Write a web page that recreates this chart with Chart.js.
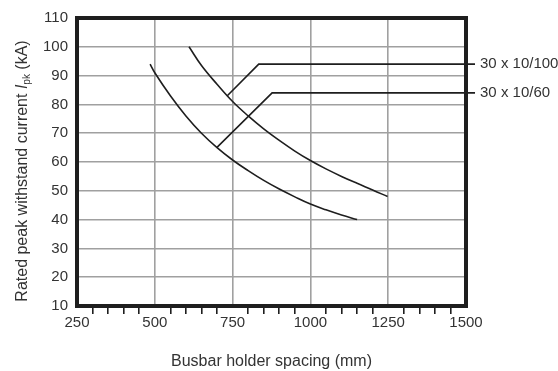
<!DOCTYPE html>
<html>
<head>
<meta charset="utf-8">
<script src="https://cdn.jsdelivr.net/npm/chart.js@4.4.1/dist/chart.umd.min.js"></script>
<style>
  html, body { margin: 0; padding: 0; background: #fff; }
  #wrap { width: 558px; height: 371px; }
</style>
</head>
<body>
<div id="wrap"><canvas id="ipkChart"></canvas></div>
<script>
// busbar holder spacing (mm) vs. rated peak withstand current (kA)
const spacing60 = [485, 500, 550, 600, 650, 700, 750, 800, 850, 900, 950, 1000, 1050, 1100, 1150];
const current60 = [94, 91, 83, 76, 70, 65, 60.7, 57, 53.6, 50.6, 47.9, 45.4, 43.4, 41.6, 40];

const spacing100 = [610, 650, 700, 750, 800, 850, 900, 950, 1000, 1050, 1100, 1150, 1200, 1248];
const current100 = [100, 93.5, 87, 81, 76, 71.5, 67.5, 63.8, 60.5, 57.6, 55, 52.6, 50.3, 48];

// leader lines from each curve out to its name on the right
const seriesNames = ["30 x 10/100", "30 x 10/60"];
const leaderX = [[733, 834, 1529], [699, 877, 1529]];
const leaderY = [[83, 94, 94], [65, 84, 84]];

const xTicks = [250, 500, 750, 1000, 1250, 1500];
const yTicks = [10, 20, 30, 40, 50, 60, 70, 80, 90, 100, 110];

const FONT = "'Liberation Sans', Arial, sans-serif";
const INK = "#1e1e1e";
const TEXT = "#333";
const GRID = "#a0a0a0";

function pts(xs, ys) {
    return xs.map(function (x, i) { return { x: x, y: ys[i] }; });
}

const curveStyle = {
    borderColor: INK,
    borderWidth: 1.6,
    pointRadius: 0,
    fill: false,
    tension: 0.4,
};

const datasets = [
    Object.assign({ label: "curve100", data: pts(spacing100, current100) }, curveStyle),
    Object.assign({ label: "curve60", data: pts(spacing60, current60) }, curveStyle),
];
seriesNames.forEach(function (name, i) {
    datasets.push({
        label: name,
        data: pts(leaderX[i], leaderY[i]),
        borderColor: INK,
        borderWidth: 1.6,
        pointRadius: 0,
        tension: 0,
        clip: false,
        isLeader: true,
    });
});

// thick frame, right-hand names and the y title with its italic symbol
const decorations = {
    id: "decorations",
    afterDatasetsDraw(chart) {
        const ctx = chart.ctx;
        const a = chart.chartArea;
        ctx.save();
        ctx.strokeStyle = INK;
        ctx.lineWidth = 4;
        ctx.strokeRect(a.left, a.top, a.right - a.left, a.bottom - a.top);

        ctx.fillStyle = TEXT;
        ctx.font = "15px " + FONT;
        ctx.textAlign = "left";
        ctx.textBaseline = "middle";
        chart.data.datasets.forEach(function (ds, i) {
            if (!ds.isLeader) return;
            const meta = chart.getDatasetMeta(i);
            const last = meta.data[meta.data.length - 1];
            ctx.fillText(ds.label, last.x + 5, last.y);
        });

        // rotated title in pieces: normal, italic I, subscript pk, normal
        const parts = [
            { t: "Rated peak withstand current ", f: "16px " + FONT, dy: 0 },
            { t: "I", f: "italic 16px " + FONT, dy: 0 },
            { t: "pk", f: "10px " + FONT, dy: 4 },
            { t: " (kA)", f: "16px " + FONT, dy: 0 },
        ];
        let total = 0;
        parts.forEach(function (p) { ctx.font = p.f; p.w = ctx.measureText(p.t).width; total += p.w; });
        ctx.translate(23, 171);
        ctx.rotate(-Math.PI / 2);
        ctx.textBaseline = "middle";
        let x = -total / 2;
        parts.forEach(function (p) {
            ctx.font = p.f;
            ctx.fillText(p.t, x, p.dy);
            x += p.w;
        });
        ctx.restore();
    },
};

const ctx = document.getElementById("ipkChart").getContext("2d");

new Chart(ctx, {
    type: "line",
    data: { datasets: datasets },
    plugins: [decorations],
    options: {
        responsive: true,
        maintainAspectRatio: false,
        animation: false,
        layout: { padding: { top: 18, right: 92, left: 0, bottom: 0 } },
        plugins: {
            legend: { display: false },
            tooltip: { enabled: false },
        },
        scales: {
            x: {
                type: "linear",
                min: 250,
                max: 1500,
                afterFit(scale) { scale.height = 65; },
                afterBuildTicks(scale) {
                    const t = [];
                    for (let v = 250; v <= 1500; v += 50) t.push({ value: v });
                    scale.ticks = t;
                },
                border: { display: false },
                grid: {
                    lineWidth: 1.6,
                    tickLength: 8,
                    color(c) {
                        return xTicks.includes(c.tick && c.tick.value) ? GRID : "rgba(0,0,0,0)";
                    },
                    tickColor(c) {
                        return xTicks.includes(c.tick && c.tick.value) ? "rgba(0,0,0,0)" : INK;
                    },
                    tickWidth: 1.6,
                },
                ticks: {
                    autoSkip: false,
                    maxRotation: 0,
                    padding: 0,
                    color: TEXT,
                    font: { family: FONT, size: 15 },
                    callback(v) { return xTicks.includes(v) ? String(v) : ""; },
                },
                title: {
                    display: true,
                    text: "Busbar holder spacing (mm)",
                    color: TEXT,
                    font: { family: FONT, size: 16 },
                    padding: { top: 0, bottom: 0 },
                },
            },
            y: {
                type: "linear",
                min: 10,
                max: 110,
                afterFit(scale) { scale.width = 77; },
                afterBuildTicks(scale) {
                    scale.ticks = yTicks.map(function (v) { return { value: v }; });
                },
                border: { display: false },
                grid: {
                    color: GRID,
                    lineWidth: 1.6,
                    drawTicks: false,
                },
                ticks: {
                    padding: 9,
                    color: TEXT,
                    font: { family: FONT, size: 15 },
                },
            },
        },
    },
});
</script>
</body>
</html>
